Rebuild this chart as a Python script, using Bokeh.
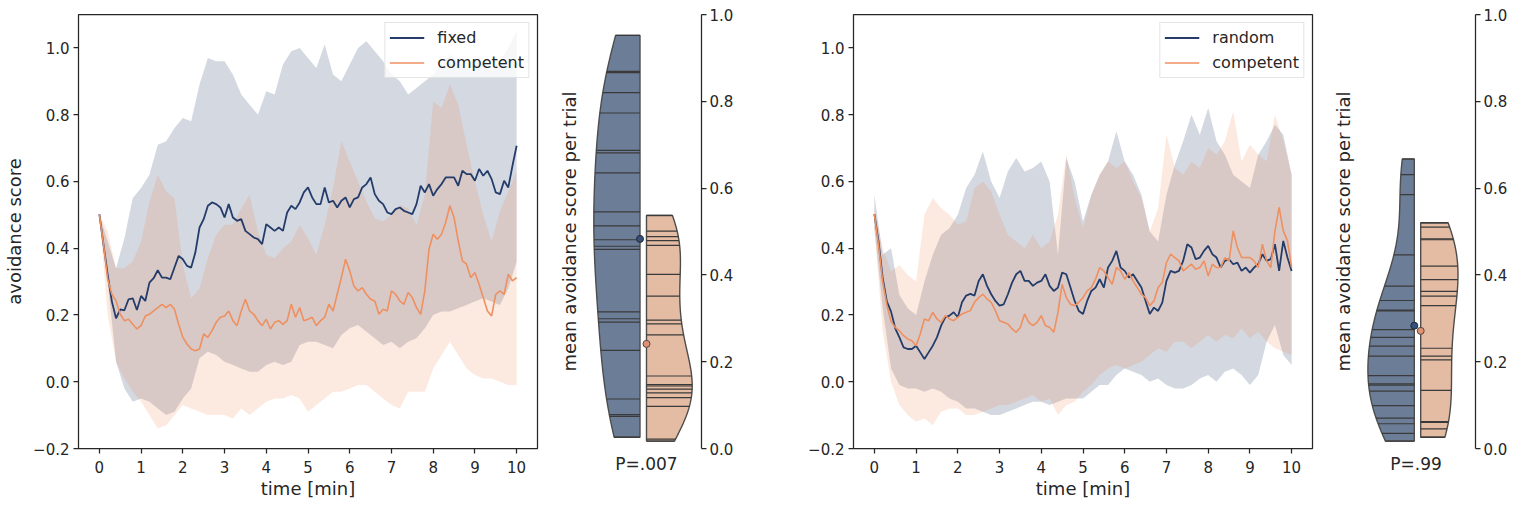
import numpy as np
from bokeh.plotting import figure
from bokeh.layouts import row
from bokeh.models import Range1d, LinearAxis, FixedTicker, CustomJSTickFormatter
from bokeh.embed import file_html
from bokeh.resources import INLINE

# ---------------- data ----------------
# time grid of the mean lines (minutes) and of the confidence bands
t_line = [i / 10 for i in range(101)]
t_band = [i / 5 for i in range(51)]

# left panel: fixed vs competent
fixed_mean = [0.502, 0.41, 0.32, 0.24, 0.19, 0.217, 0.214, 0.247, 0.25, 0.215,
              0.257, 0.242, 0.297, 0.31, 0.334, 0.312, 0.312, 0.307, 0.342, 0.377,
              0.367, 0.347, 0.342, 0.387, 0.462, 0.487, 0.527, 0.537, 0.532, 0.522,
              0.492, 0.532, 0.492, 0.482, 0.487, 0.452, 0.442, 0.432, 0.427, 0.412,
              0.472, 0.462, 0.452, 0.462, 0.452, 0.507, 0.527, 0.517, 0.537, 0.567,
              0.582, 0.552, 0.532, 0.532, 0.582, 0.537, 0.542, 0.522, 0.542, 0.552,
              0.522, 0.547, 0.552, 0.582, 0.592, 0.612, 0.562, 0.542, 0.532, 0.507,
              0.502, 0.517, 0.522, 0.512, 0.507, 0.502, 0.532, 0.587, 0.567, 0.592,
              0.557, 0.577, 0.592, 0.612, 0.612, 0.612, 0.587, 0.632, 0.622, 0.622,
              0.602, 0.637, 0.617, 0.632, 0.607, 0.567, 0.562, 0.602, 0.582, 0.647,
              0.707]
fixed_hi = [0.50, 0.42, 0.34, 0.43, 0.55, 0.58, 0.62, 0.71, 0.72, 0.76, 0.79, 0.78, 0.89,
            0.97, 0.96, 0.96, 0.92, 0.86, 0.83, 0.80, 0.87, 0.86, 0.95, 0.99, 1.00, 0.97,
            0.94, 1.01, 0.92, 0.90, 0.95, 1.00, 1.02, 0.99, 0.96, 0.92, 0.90, 0.86, 0.88,
            0.90, 0.92, 0.95, 0.98, 0.96, 0.94, 0.97, 0.95, 0.93, 0.96, 1.00, 1.05]
fixed_lo = [0.50, 0.30, 0.06, -0.02, -0.06, -0.05, -0.06, -0.08, -0.10, -0.09, -0.05, -0.02,
            0.07, 0.09, 0.08, 0.06, 0.05, 0.04, 0.03, 0.03, 0.05, 0.06, 0.05, 0.06, 0.11,
            0.12, 0.12, 0.11, 0.10, 0.14, 0.16, 0.17, 0.15, 0.13, 0.11, 0.12, 0.10, 0.12,
            0.13, 0.16, 0.20, 0.21, 0.21, 0.22, 0.23, 0.24, 0.25, 0.24, 0.23, 0.28, 0.36]
compL_mean = [0.502, 0.41, 0.307, 0.262, 0.242, 0.202, 0.183, 0.187, 0.172, 0.158,
              0.168, 0.197, 0.202, 0.212, 0.222, 0.232, 0.222, 0.232, 0.217, 0.172,
              0.133, 0.113, 0.098, 0.093, 0.098, 0.143, 0.133, 0.153, 0.178, 0.193,
              0.197, 0.212, 0.183, 0.168, 0.212, 0.247, 0.212, 0.202, 0.183, 0.168,
              0.187, 0.158, 0.178, 0.183, 0.172, 0.183, 0.232, 0.193, 0.222, 0.183,
              0.187, 0.193, 0.168, 0.183, 0.193, 0.232, 0.212, 0.262, 0.312, 0.367,
              0.332, 0.287, 0.272, 0.282, 0.262, 0.247, 0.242, 0.202, 0.217, 0.212,
              0.272, 0.262, 0.242, 0.232, 0.267, 0.252, 0.222, 0.202, 0.272, 0.397,
              0.442, 0.427, 0.442, 0.477, 0.527, 0.492, 0.422, 0.362, 0.352, 0.312,
              0.327, 0.292, 0.252, 0.212, 0.197, 0.262, 0.272, 0.262, 0.322, 0.302,
              0.312]
compL_hi = [0.50, 0.45, 0.34, 0.34, 0.36, 0.42, 0.54, 0.62, 0.57, 0.55, 0.35, 0.25, 0.28,
            0.37, 0.44, 0.47, 0.47, 0.52, 0.56, 0.45, 0.38, 0.37, 0.40, 0.42, 0.47, 0.43,
            0.38, 0.47, 0.58, 0.72, 0.66, 0.60, 0.54, 0.49, 0.48, 0.50, 0.53, 0.52, 0.47,
            0.56, 0.84, 0.82, 0.89, 0.83, 0.71, 0.60, 0.50, 0.42, 0.51, 0.57, 0.63]
compL_lo = [0.50, 0.20, 0.06, 0.01, -0.03, -0.06, -0.10, -0.14, -0.13, -0.10, -0.07, -0.08,
            -0.09, -0.10, -0.10, -0.10, -0.11, -0.08, -0.10, -0.08, -0.06, -0.05, -0.05,
            -0.04, -0.05, -0.09, -0.07, -0.05, -0.03, -0.03, -0.02, -0.01, -0.01, -0.03,
            -0.05, -0.07, -0.08, -0.03, -0.03, -0.03, 0.04, 0.08, 0.12, 0.08, 0.04, 0.02,
            0.01, 0.01, 0.00, -0.01, -0.01]

# right panel: random vs competent
random_mean = [0.502, 0.42, 0.31, 0.24, 0.21, 0.16, 0.133, 0.103, 0.098, 0.098,
               0.108, 0.088, 0.068, 0.088, 0.108, 0.133, 0.168, 0.193, 0.198, 0.208,
               0.193, 0.238, 0.258, 0.263, 0.258, 0.302, 0.322, 0.287, 0.262, 0.242,
               0.228, 0.232, 0.262, 0.297, 0.322, 0.332, 0.302, 0.302, 0.287, 0.297,
               0.302, 0.322, 0.287, 0.272, 0.282, 0.327, 0.322, 0.282, 0.242, 0.212,
               0.203, 0.242, 0.272, 0.282, 0.307, 0.282, 0.342, 0.362, 0.392, 0.342,
               0.332, 0.312, 0.322, 0.302, 0.282, 0.242, 0.203, 0.222, 0.212, 0.237,
               0.302, 0.332, 0.327, 0.332, 0.362, 0.412, 0.402, 0.367, 0.372, 0.392,
               0.407, 0.382, 0.372, 0.342, 0.362, 0.367, 0.352, 0.357, 0.332, 0.342,
               0.327, 0.342, 0.352, 0.382, 0.362, 0.367, 0.412, 0.332, 0.422, 0.372,
               0.332]
random_hi = [0.56, 0.38, 0.40, 0.26, 0.22, 0.20, 0.30, 0.38, 0.44, 0.46, 0.50, 0.58, 0.62,
             0.69, 0.60, 0.55, 0.63, 0.67, 0.63, 0.64, 0.66, 0.60, 0.38, 0.67, 0.60, 0.48,
             0.56, 0.62, 0.66, 0.75, 0.66, 0.62, 0.56, 0.45, 0.42, 0.56, 0.65, 0.72, 0.80,
             0.74, 0.82, 0.72, 0.68, 0.62, 0.60, 0.58, 0.68, 0.72, 0.77, 0.74, 0.62]
random_lo = [0.46, 0.22, 0.04, -0.01, -0.02, -0.02, -0.03, -0.02, -0.03, -0.05, -0.06,
             -0.08, -0.08, -0.09, -0.10, -0.10, -0.09, -0.08, -0.07, -0.06, -0.06, -0.07,
             -0.06, -0.05, -0.05, -0.05, -0.03, -0.01, -0.01, 0.02, 0.04, 0.03, 0.02, 0.00,
             0.01, -0.01, -0.02, -0.02, -0.01, 0.01, 0.02, 0.00, 0.03, 0.04, 0.02, -0.01,
             0.02, 0.12, 0.17, 0.08, 0.05]
compR_mean = [0.502, 0.41, 0.30, 0.23, 0.18, 0.163, 0.153, 0.138, 0.128, 0.123,
              0.108, 0.143, 0.188, 0.183, 0.208, 0.188, 0.178, 0.198, 0.188, 0.183,
              0.193, 0.203, 0.208, 0.213, 0.238, 0.252, 0.262, 0.248, 0.238, 0.213,
              0.183, 0.178, 0.173, 0.158, 0.148, 0.163, 0.203, 0.178, 0.168, 0.178,
              0.198, 0.168, 0.163, 0.148, 0.208, 0.292, 0.252, 0.232, 0.228, 0.238,
              0.252, 0.272, 0.282, 0.307, 0.342, 0.332, 0.312, 0.292, 0.342, 0.332,
              0.307, 0.327, 0.302, 0.282, 0.262, 0.252, 0.228, 0.242, 0.282, 0.297,
              0.357, 0.382, 0.372, 0.362, 0.332, 0.342, 0.352, 0.337, 0.342, 0.362,
              0.317, 0.352, 0.342, 0.342, 0.372, 0.362, 0.452, 0.402, 0.372, 0.372,
              0.372, 0.362, 0.342, 0.412, 0.362, 0.342, 0.452, 0.522, 0.452, 0.422,
              0.342]
compR_hi = [0.52, 0.40, 0.33, 0.35, 0.32, 0.30, 0.50, 0.55, 0.52, 0.50, 0.47, 0.48, 0.58,
            0.60, 0.57, 0.50, 0.44, 0.42, 0.40, 0.44, 0.40, 0.42, 0.50, 0.68, 0.55, 0.46,
            0.56, 0.62, 0.66, 0.64, 0.66, 0.60, 0.55, 0.45, 0.52, 0.74, 0.64, 0.62, 0.66,
            0.64, 0.70, 0.68, 0.72, 0.81, 0.66, 0.71, 0.68, 0.66, 0.80, 0.72, 0.62]
compR_lo = [0.46, 0.15, 0.00, -0.07, -0.10, -0.12, -0.11, -0.13, -0.09, -0.08, -0.08,
            -0.10, -0.10, -0.09, -0.08, -0.07, -0.07, -0.06, -0.05, -0.04, -0.06, -0.05,
            -0.10, -0.07, -0.06, -0.03, -0.01, 0.02, 0.04, 0.05, 0.04, 0.05, 0.06, 0.08,
            0.10, 0.09, 0.12, 0.12, 0.10, 0.12, 0.14, 0.12, 0.14, 0.13, 0.16, 0.13, 0.15,
            0.12, 0.10, 0.09, 0.08]

# per-trial mean avoidance scores (violin sticks) and their means (dots)
fixed_trials = [0.952, 0.869, 0.866, 0.820, 0.773, 0.687, 0.681, 0.635, 0.545, 0.513, 0.481,
                0.466, 0.459, 0.315, 0.299, 0.291, 0.226, 0.114, 0.078, 0.074, 0.026]
compL_trials = [0.537, 0.501, 0.488, 0.479, 0.468, 0.401, 0.351, 0.296, 0.287, 0.262, 0.167,
                0.147, 0.144, 0.137, 0.128, 0.117, 0.097, 0.0215, 0.017]
random_trials = [0.667, 0.631, 0.585, 0.446, 0.374, 0.341, 0.319, 0.317, 0.274, 0.256, 0.236,
                 0.213, 0.168, 0.149, 0.146, 0.132, 0.099, 0.070, 0.057, 0.035, 0.017]
compR_trials = [0.520, 0.510, 0.483, 0.481, 0.420, 0.389, 0.362, 0.351, 0.329, 0.231, 0.213,
                0.204, 0.134, 0.062, 0.060, 0.045, 0.026]
dot_means = {"fixed": 0.483, "compL": 0.241, "random": 0.283, "compR": 0.271}

x_ticks = list(range(11))
y_ticks_ts = [-0.2, 0.0, 0.2, 0.4, 0.6, 0.8, 1.0]
y_ticks_vio = [0.0, 0.2, 0.4, 0.6, 0.8, 1.0]
p_labels = ["P=.007", "P=.99"]

# ---------------- style ----------------
FONT = "DejaVu Sans"
TXT = "#262626"
NAVY = "#233c6a"
ORANGE = "#ee9060"
NAVY_V = "#6c7d97"
ORANGE_V = "#e4bba3"
H = 505
TOP = 14
BOTTOM = 57

fmt_ts = CustomJSTickFormatter(code="return (tick < -1e-9 ? '\u2212' : '') + Math.abs(tick).toFixed(1);")
fmt_v = CustomJSTickFormatter(code="return Math.abs(tick).toFixed(1);")


def style_axis(ax, label_size="18px"):
    ax.major_tick_out = 5
    ax.major_tick_in = 0
    ax.minor_tick_out = 0
    ax.minor_tick_in = 0
    ax.major_tick_line_color = TXT
    ax.major_tick_line_width = 1.25
    ax.major_label_text_font = FONT
    ax.major_label_text_font_size = "15px"
    ax.major_label_text_color = TXT
    ax.axis_label_text_font = FONT
    ax.axis_label_text_font_size = label_size
    ax.axis_label_text_font_style = "normal"
    ax.axis_label_text_color = TXT


def ts_fig(border_left, ylabel, t_mean, a_mean, a_hi, a_lo, b_mean, b_hi, b_lo, a_name, b_name):
    p = figure(width=border_left + 459 + 8, height=H,
               x_range=Range1d(-0.5, 10.5), y_range=Range1d(-0.2, 1.1),
               min_border_left=border_left, min_border_right=8,
               min_border_top=TOP, min_border_bottom=BOTTOM,
               output_backend="svg", toolbar_location=None)
    p.grid.visible = False
    p.outline_line_color = TXT
    p.outline_line_width = 1.25
    p.outline_line_alpha = 1.0
    for ax in p.xaxis:
        style_axis(ax)
        ax.axis_line_color = None
        ax.major_label_standoff = 7
        ax.axis_label_standoff = 2
    for ax in p.yaxis:
        style_axis(ax)
        ax.axis_line_color = None
        ax.major_label_standoff = 4
        ax.axis_label_standoff = 5
    p.xaxis.ticker = FixedTicker(ticks=x_ticks)
    p.yaxis.ticker = FixedTicker(ticks=y_ticks_ts)
    p.yaxis.formatter = fmt_ts
    p.xaxis.axis_label = "time [min]"
    if ylabel:
        p.yaxis.axis_label = ylabel

    p.varea(x=t_band, y1=a_lo, y2=a_hi, fill_color=NAVY, fill_alpha=0.2)
    p.varea(x=t_band, y1=b_lo, y2=b_hi, fill_color=ORANGE, fill_alpha=0.2)
    p.line(t_mean, a_mean, line_color=NAVY, line_width=1.8, legend_label=a_name)
    p.line(t_mean, b_mean, line_color=ORANGE, line_width=1.6, legend_label=b_name)

    lg = p.legend[0]
    lg.location = "top_right"
    lg.margin = 8
    lg.padding = 4
    lg.spacing = 4
    lg.label_height = 21
    lg.glyph_height = 21
    lg.glyph_width = 35
    lg.label_standoff = 13
    lg.border_line_color = "#cccccc"
    lg.border_line_width = 1
    lg.background_fill_color = "white"
    lg.background_fill_alpha = 0.8
    lg.label_text_font = FONT
    lg.label_text_font_size = "16px"
    lg.label_text_color = TXT
    return p


def kde(data, grid):
    d = np.asarray(data, dtype=float)
    h = d.std(ddof=1) * len(d) ** (-0.2)
    z = (np.asarray(grid)[:, None] - d[None, :]) / h
    return np.exp(-0.5 * z ** 2).sum(axis=1)


def draw_violin(p, data, side, edge, half_width, fill):
    lo, hi = min(data), max(data)
    grid = np.linspace(lo, hi, 200)
    dens = kde(data, grid)
    scale = half_width / dens.max()
    xs_out = edge + side * dens * scale
    xs = list(xs_out) + [edge, edge]
    ys = list(grid) + [hi, lo]
    p.patch(xs, ys, fill_color=fill, fill_alpha=1.0, line_color="#4d4d4d", line_width=1.4)
    wd = kde(data, data) * scale
    p.segment(x0=[edge] * len(data), y0=data, x1=list(edge + side * wd), y1=data,
              line_color="#3a3a3a", line_width=1.2)


def vio_fig(width, bl, br, xr, ylabel_standoff, plabel, a_data, b_data, a_mean, b_mean,
            a_edge, b_edge, a_w, b_w):
    p = figure(width=width, height=H, x_range=Range1d(*xr), y_range=Range1d(0, 1),
               y_axis_location="right",
               min_border_left=bl, min_border_right=br,
               min_border_top=TOP, min_border_bottom=BOTTOM,
               output_backend="svg", toolbar_location=None)
    p.grid.visible = False
    p.outline_line_color = None
    ra = p.yaxis[0]
    style_axis(ra)
    ra.ticker = FixedTicker(ticks=y_ticks_vio)
    ra.formatter = fmt_v
    ra.axis_line_color = TXT
    ra.axis_line_width = 1.25
    ra.major_label_standoff = 3

    xa = p.xaxis[0]
    style_axis(xa, label_size="17px")
    xa.ticker = FixedTicker(ticks=[])
    xa.axis_line_color = None
    xa.major_tick_out = 0
    xa.major_label_standoff = 0
    xa.axis_label = plabel
    xa.axis_label_standoff = 5

    la = LinearAxis(ticker=FixedTicker(ticks=[]), axis_label="mean avoidance score per trial")
    style_axis(la)
    la.axis_line_color = None
    la.major_tick_out = 0
    la.major_label_standoff = 0
    la.axis_label_standoff = ylabel_standoff
    p.add_layout(la, "left")

    draw_violin(p, a_data, -1, a_edge, a_w, NAVY_V)
    draw_violin(p, b_data, 1, b_edge, b_w, ORANGE_V)
    p.scatter(x=[a_edge], y=[a_mean], size=7, fill_color="#34507e", line_color="#2a2a2a", line_width=1)
    p.scatter(x=[b_edge], y=[b_mean], size=7, fill_color="#e09272", line_color="#4a4a4a", line_width=1)
    return p


p1 = ts_fig(78, "avoidance score", t_line, fixed_mean, fixed_hi, fixed_lo,
            compL_mean, compL_hi, compL_lo, "fixed", "competent")
p2 = vio_fig(235, 46, 79, (-0.52, 0.58), 12, p_labels[0], fixed_trials, compL_trials,
             dot_means["fixed"], dot_means["compL"], -0.035, 0.03, 0.462, 0.457)
p3 = ts_fig(73, None, t_line, random_mean, random_hi, random_lo,
            compR_mean, compR_hi, compR_lo, "random", "competent")
p4 = vio_fig(196, 36, 41, (-0.61, 0.58), 3, p_labels[1], random_trials, compR_trials,
             dot_means["random"], dot_means["compR"], -0.032, 0.032, 0.464, 0.373)

layout = row(p1, p2, p3, p4)
open("out.html", "w").write(file_html(layout, INLINE))
